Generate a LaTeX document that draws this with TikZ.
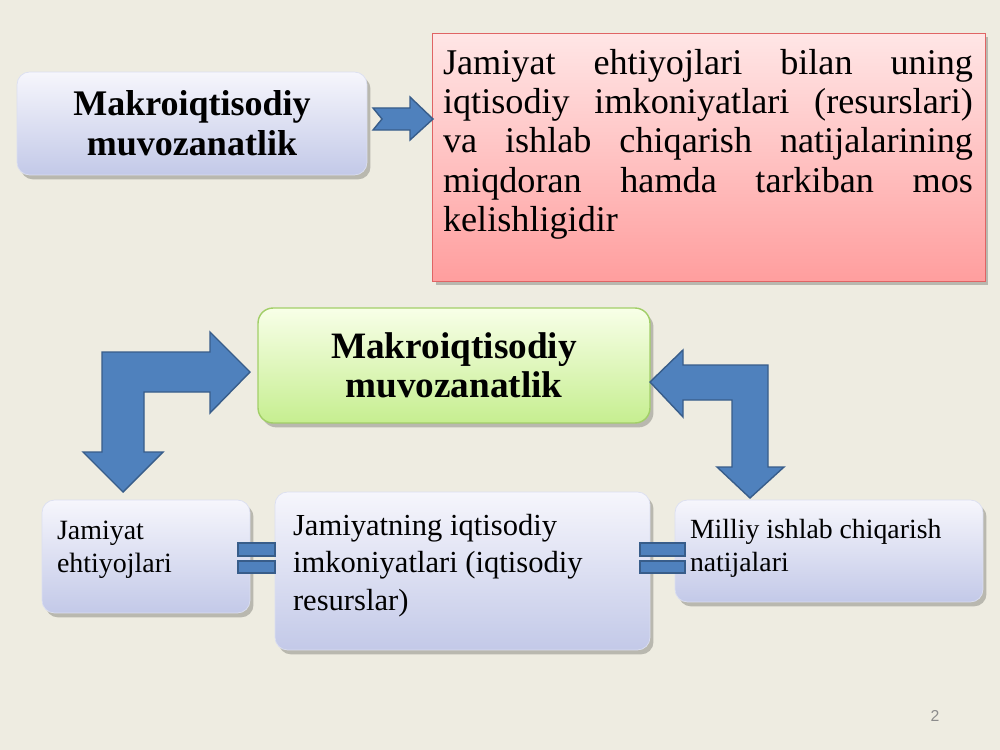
\documentclass[tikz,border=0pt]{standalone}
\usepackage{fontspec}
\setmainfont{Liberation Serif}
\newfontfamily\pagenumfont{Liberation Sans}
\usetikzlibrary{shadows}

\definecolor{slidebg}{HTML}{EEECE1}
\definecolor{arrowblue}{HTML}{4F81BD}
\definecolor{arrowline}{HTML}{385D8A}
\definecolor{lavtop}{HTML}{F6F6FC}
\definecolor{lavbot}{HTML}{C3C9E8}
\definecolor{pinktop}{HTML}{FFE6E6}
\definecolor{pinkbot}{HTML}{FF9E9E}
\definecolor{pinkline}{HTML}{E06464}
\definecolor{greentop}{HTML}{F8FFE8}
\definecolor{greenbot}{HTML}{C6EE90}
\definecolor{greenline}{HTML}{A2CF68}

\begin{document}
\begin{tikzpicture}[x=0.02cm, y=-0.02cm,
    boxshadow/.style={drop shadow={shadow xshift=2pt, shadow yshift=-2.5pt, opacity=0.22, fill=black}},
    lavbox/.style={rounded corners=0.25cm, top color=lavtop, bottom color=lavbot, draw=lavbot!60!white, boxshadow},
    pinkbox/.style={top color=pinktop, bottom color=pinkbot, draw=pinkline, boxshadow},
    greenbox/.style={rounded corners=0.3cm, top color=greentop, bottom color=greenbot, draw=greenline, thick, boxshadow},
    titletext/.style={align=center, font=\fontsize{20.5}{22.7}\selectfont\bfseries},
    bodytext/.style={inner sep=0pt, anchor=north west, align=left},
    blockarrow/.style={fill=arrowblue, draw=arrowline, line width=0.8pt, line join=miter}
  ]

  % slide background
  \fill[slidebg] (0,0) rectangle (1000,750);
  \useasboundingbox (0,0) rectangle (1000,750);

  % top row: term and its definition
  \node[lavbox, minimum width=7cm, minimum height=2.06cm, titletext] (termtop) at (192,123.5)
    {Makroiqtisodiy\\muvozanatlik};
  \node[pinkbox, minimum width=11.06cm, minimum height=4.96cm] (defbox) at (708.5,157) {};
  \node[bodytext, align=justify, text width=10.6cm, font=\fontsize{20.6}{22.4}\selectfont] (deftext)
    at ([shift={(11,16)}]defbox.north west)
    {Jamiyat ehtiyojlari bilan uning\linebreak
     iqtisodiy imkoniyatlari (resurslari)\linebreak
     va ishlab chiqarish natijalarining\linebreak
     miqdoran hamda tarkiban mos\linebreak
     kelishligidir};

  % notched arrow between them
  \draw[blockarrow] (373,108) -- (410,108) -- (410,97) -- (433,119) -- (410,140)
    -- (410,130) -- (373,130) -- (382,119) -- cycle;

  % middle: the term again
  \node[greenbox, minimum width=7.84cm, minimum height=2.3cm, font=\fontsize{21.2}{22.4}\selectfont\bfseries, align=center] (termmid) at (454,365.5)
    {Makroiqtisodiy\\muvozanatlik};

  % bottom row boxes
  \node[lavbox, minimum width=4.16cm, minimum height=2.26cm] (needs) at (146,556.5) {};
  \node[lavbox, minimum width=7.5cm, minimum height=3.16cm] (resources) at (462.5,571) {};
  \node[lavbox, minimum width=6.16cm, minimum height=2.04cm] (output) at (829,551) {};

  \node[bodytext, font=\fontsize{15.9}{18.7}\selectfont] (needstext)
    at ([shift={(15,21)}]needs.north west) {Jamiyat\\ehtiyojlari};
  \node[bodytext, font=\fontsize{17.4}{21.3}\selectfont] (restext)
    at ([shift={(18,22)}]resources.north west) {Jamiyatning iqtisodiy\\imkoniyatlari (iqtisodiy\\resurslar)};
  \node[bodytext, font=\fontsize{15.8}{18.7}\selectfont] (outtext)
    at ([shift={(15,19)}]output.north west) {Milliy ishlab chiqarish\\natijalari};

  % bent arrows
  \draw[blockarrow] (102,352) -- (210,352) -- (210,332) -- (250,372) -- (210,413) -- (210,392)
    -- (144,392) -- (144,452) -- (163,452) -- (123,492) -- (83,452) -- (102,452) -- cycle;
  \draw[blockarrow] (650,382) -- (683,350) -- (683,365) -- (768,365) -- (768,467) -- (784,467)
    -- (750,498) -- (717,467) -- (732,467) -- (732,400) -- (683,400) -- (683,417) -- cycle;

  % equal signs
  \foreach \xa/\xb in {238/275, 640/685} {
    \draw[blockarrow, line width=0.6pt] (\xa,543) rectangle (\xb,556);
    \draw[blockarrow, line width=0.6pt] (\xa,561) rectangle (\xb,573);
  }

  % page number
  \node[font=\pagenumfont\fontsize{9}{10}\selectfont, text=black!45] (pagenum) at (935,716) {2};

\end{tikzpicture}
\end{document}
